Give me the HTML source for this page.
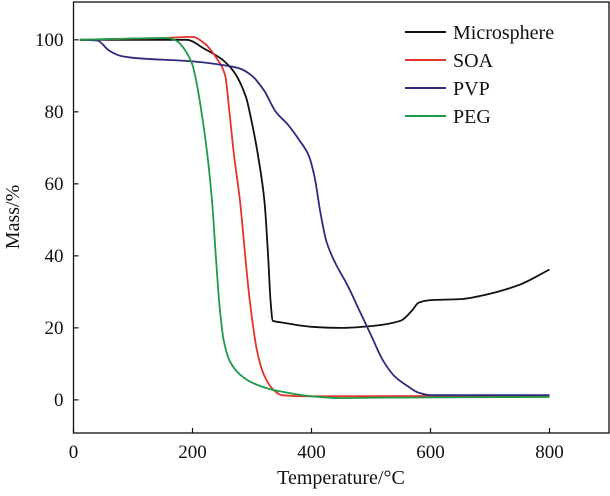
<!DOCTYPE html>
<html><head><meta charset="utf-8"><style>
body{margin:0;background:#fff}
svg text{font-family:"Liberation Serif",serif;fill:#111}
</style></head><body>
<svg id="c" width="610" height="491" xmlns="http://www.w3.org/2000/svg"></svg>
<script>
const xTicks=[0,200,400,600,800];
const yTicks=[0,20,40,60,80,100];
const seriesNames=["Microsphere","SOA","PVP","PEG"];
const seriesColors=["#111111","#e2342b","#2f2a7c","#1f9a4a"];
const microT=[10,190,220,250,270,290,301,312,321,327,331,335,350,400,450,500,550,570,580,600,650,700,750,800];
const microM=[100,100,97.5,94.5,91,84,76,66,55,40,28,22,21.5,20.3,20,20.5,22,25,27,27.7,28,29.5,32,36.2];
const soaT=[10,150,200,220,240,255,262,269,280,288,296,308,320,335,350,400,800];
const soaM=[100,100.5,100.8,99,95,90,80,69,55,41,28,14,7,3,1.3,1,1.2];
const pvpT=[10,40,60,80,100,200,250,280,300,320,340,360,380,395,405,415,425,440,460,480,500,520,540,560,580,600,800];
const pvpM=[100,99.8,97,95.5,95,94,93,92,90,86,80,76.5,72,68,62,52,44,38,32,25,18,11,6.5,4,2,1.3,1.3];
const pegT=[10,160,175,188,200,208,216,225,233,240,246,252,262,280,300,330,360,400,450,500,800];
const pegM=[100,100.5,99.5,97,93,87,79,68,55,38,25,17,11,7,4.8,3,2,1,0.5,0.6,0.8];
const allT=[microT,soaT,pvpT,pegT], allM=[microM,soaM,pvpM,pegM];

const L=73.5,R=609,T=2,B=433;
const xMin=0,xMax=900,yMin=-9.2,yMax=110.5;
const sx=v=>L+(v-xMin)/(xMax-xMin)*(R-L);
const sy=v=>B-(v-yMin)/(yMax-yMin)*(B-T);
const svg=document.getElementById('c');
const NS="http://www.w3.org/2000/svg";
function mk(tag,at){const e=document.createElementNS(NS,tag);for(const k in at)e.setAttribute(k,at[k]);svg.appendChild(e);return e;}
function monotone(pts){
  const n=pts.length,dx=[],s=[],m=[];
  for(let i=0;i<n-1;i++){dx[i]=pts[i+1][0]-pts[i][0];s[i]=(pts[i+1][1]-pts[i][1])/dx[i];}
  m[0]=s[0];m[n-1]=s[n-2];
  for(let i=1;i<n-1;i++){
    if(s[i-1]*s[i]<=0)m[i]=0;
    else{const w1=2*dx[i]+dx[i-1],w2=dx[i]+2*dx[i-1];m[i]=(w1+w2)/(w1/s[i-1]+w2/s[i]);}
  }
  let d='M'+pts[0][0].toFixed(1)+','+pts[0][1].toFixed(1);
  for(let i=0;i<n-1;i++){
    const h=dx[i]/3;
    d+=' C'+(pts[i][0]+h).toFixed(1)+','+(pts[i][1]+m[i]*h).toFixed(1)+' '+(pts[i+1][0]-h).toFixed(1)+','+(pts[i+1][1]-m[i+1]*h).toFixed(1)+' '+pts[i+1][0].toFixed(1)+','+pts[i+1][1].toFixed(1);
  }
  return d;
}

const frame=mk('rect',{x:L,y:T,width:R-L,height:B-T,fill:'none',stroke:'#111','stroke-width':1.3});



xTicks.forEach(v=>{
  const t=mk('line',{x1:sx(v),x2:sx(v),y1:B,y2:B-5,stroke:'#111','stroke-width':1.2});
  
  
  const l=mk('text',{x:sx(v),y:B+25,'text-anchor':'middle','font-size':19});
  l.textContent=v;
  
  
});
yTicks.forEach(v=>{
  const t=mk('line',{x1:L,x2:L+5,y1:sy(v),y2:sy(v),stroke:'#111','stroke-width':1.2});
  
  
  const l=mk('text',{x:L-10,y:sy(v)+6,'text-anchor':'end','font-size':19});
  l.textContent=v;
  
  
});
const xt=mk('text',{x:341,y:484,'text-anchor':'middle','font-size':20});
xt.textContent='Temperature/°C';


const yt=mk('text',{x:0,y:0,'text-anchor':'middle','font-size':20,transform:'translate(19,217) rotate(-90)'});
yt.textContent='Mass/%';



allT.forEach((ts,i)=>{
  const pts=ts.map((t,j)=>[sx(t),sy(allM[i][j])]);
  const p=mk('path',{d:monotone(pts),fill:'none',stroke:seriesColors[i],'stroke-width':1.8,'stroke-linejoin':'round'});
  
  
  const ly=32+i*28;
  const ll=mk('line',{x1:405,x2:446,y1:ly,y2:ly,stroke:seriesColors[i],'stroke-width':2});
  
  
  const lt=mk('text',{x:453,y:ly+7,'font-size':20});
  lt.textContent=seriesNames[i];
  
  
});
</script>
</body></html>
